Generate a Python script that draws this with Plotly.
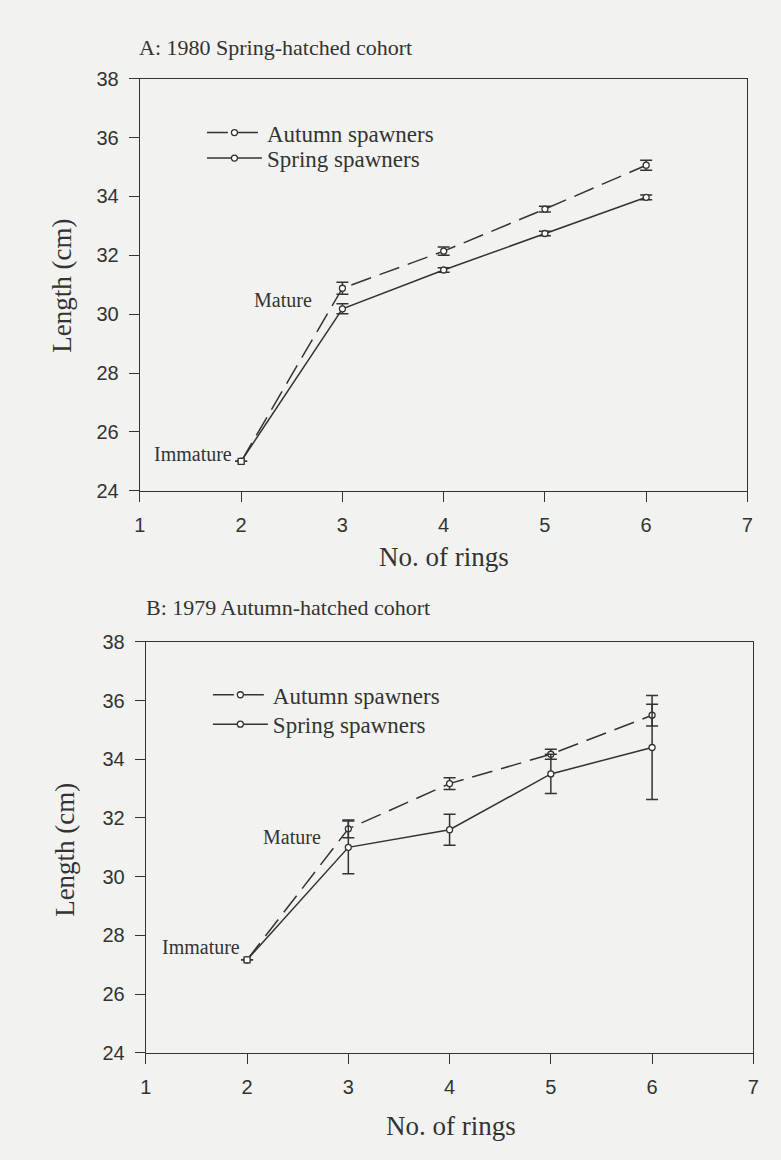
import plotly.graph_objects as go

W, H = 781, 1160

# Number of otolith rings
rings = [2, 3, 4, 5, 6]

# A: 1980 spring-hatched cohort, mean length (cm) and error
a_autumn_len = [25.0, 30.88, 32.14, 33.57, 35.06]
a_autumn_err = [None, 0.20, 0.14, 0.10, 0.17]
a_spring_len = [25.0, 30.18, 31.50, 32.74, 33.97]
a_spring_err = [None, 0.17, 0.08, 0.08, 0.08]

# B: 1979 autumn-hatched cohort, mean length (cm) and error
b_autumn_len = [27.17, 31.63, 33.17, 34.17, 35.50]
b_autumn_err = [None, 0.30, 0.20, 0.17, 0.37]
b_spring_len = [27.17, 31.00, 31.60, 33.50, 34.40]
b_spring_err = [None, 0.90, 0.53, 0.67, 1.77]

x_ticks = [1, 2, 3, 4, 5, 6, 7]
y_ticks = [24, 26, 28, 30, 32, 34, 36, 38]

INK = "#333333"
BG = "#f2f2f0"
SERIF = "Liberation Serif, Times New Roman, serif"
SANS = "Liberation Sans, Arial, sans-serif"


def px(x):
    return x / W


def py(y):
    return 1 - y / H


fig = go.Figure()


def add_series(xaxis, yaxis, y, err, dash, name, legend):
    fig.add_trace(go.Scatter(
        x=rings, y=y, xaxis=xaxis, yaxis=yaxis, name=name, legend=legend,
        mode="lines+markers",
        line=dict(color=INK, width=1.5, dash=dash),
        marker=dict(symbol="circle", size=6, color="white",
                    line=dict(color=INK, width=1.3)),
        error_y=dict(type="data", array=err, visible=True,
                     color=INK, thickness=1.5, width=6),
    ))


def add_start(xaxis, yaxis, y):
    # square marker for the immature starting size
    fig.add_trace(go.Scatter(
        x=rings[:1], y=y[:1], xaxis=xaxis, yaxis=yaxis, mode="markers",
        showlegend=False, hoverinfo="skip",
        marker=dict(symbol="square", size=6, color="white",
                    line=dict(color=INK, width=1.3)),
    ))


DASH = "21px,9px"
add_series("x", "y", a_autumn_len, a_autumn_err, DASH, "Autumn spawners", "legend2")
add_series("x", "y", a_spring_len, a_spring_err, "solid", "Spring spawners", "legend3")
add_series("x2", "y2", b_autumn_len, b_autumn_err, DASH, "Autumn spawners", "legend4")
add_series("x2", "y2", b_spring_len, b_spring_err, "solid", "Spring spawners", "legend5")
add_start("x", "y", a_spring_len)
add_start("x2", "y2", b_spring_len)

axis_common = dict(
    showline=True, mirror=True, linecolor=INK, linewidth=1.3,
    ticks="outside", ticklen=10, tickwidth=1.3, tickcolor=INK,
    showgrid=False, zeroline=False,
    tickfont=dict(family=SANS, size=20, color=INK),
    ticklabelstandoff=6,
)

# pixel boxes of the two plot areas
top = dict(l=136, r=753, t=69, b=489)
bot = dict(l=142, r=759, t=643, b=1062)

legend_common = dict(
    bgcolor="rgba(0,0,0,0)", borderwidth=0,
    font=dict(family=SERIF, size=23, color=INK),
    xanchor="left", yanchor="middle", itemwidth=55,
)

fig.update_layout(
    width=W, height=H,
    margin=dict(l=0, r=0, t=0, b=0),
    paper_bgcolor=BG, plot_bgcolor=BG,
    xaxis=dict(domain=[px(top["l"]), px(top["r"])], range=[1, 7],
               tickvals=x_ticks, anchor="y", **axis_common),
    yaxis=dict(domain=[py(top["b"]), py(top["t"])], range=[24, 38],
               tickvals=y_ticks, anchor="x", **axis_common),
    xaxis2=dict(domain=[px(bot["l"]), px(bot["r"])], range=[1, 7],
                tickvals=x_ticks, anchor="y2", **axis_common),
    yaxis2=dict(domain=[py(bot["b"]), py(bot["t"])], range=[24, 38],
                tickvals=y_ticks, anchor="x2", **axis_common),
    legend2=dict(x=px(199), y=py(124), **legend_common),
    legend3=dict(x=px(199), y=py(150), **legend_common),
    legend4=dict(x=px(205), y=py(697), **legend_common),
    legend5=dict(x=px(205), y=py(727), **legend_common),
)


def label(text, x, y, size, family=SERIF, angle=0, xanchor="center"):
    fig.add_annotation(
        text=text, x=px(x), y=py(y), xref="paper", yref="paper",
        showarrow=False, textangle=angle, xanchor=xanchor, yanchor="middle",
        font=dict(family=family, size=size, color=INK),
    )


label("A: 1980 Spring-hatched cohort", 133, 37, 22, xanchor="left")
label("B: 1979 Autumn-hatched cohort", 140, 608, 22, xanchor="left")

label("Length (cm)", 57, 280, 27, angle=-90)
label("Length (cm)", 60, 855, 27, angle=-90)
label("No. of rings", 445, 557, 27)
label("No. of rings", 452, 1137, 27)

label("Mature", 281, 295, 20)
label("Immature", 190, 452, 20)
label("Mature", 290, 842, 20)
label("Immature", 198, 954, 20)

fig.write_html("out.html")
